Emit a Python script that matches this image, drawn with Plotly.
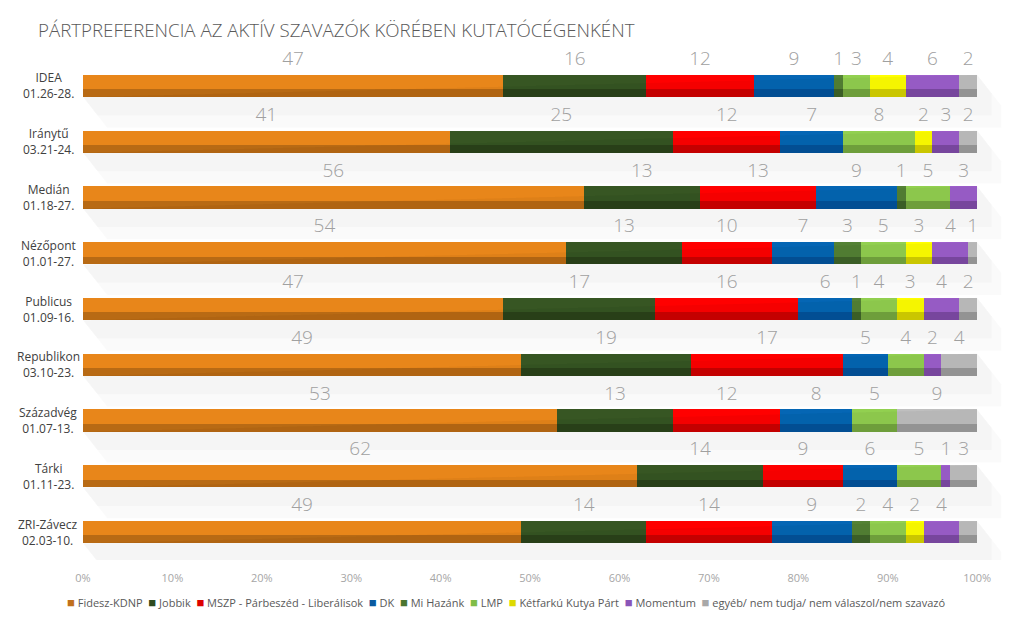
import plotly.graph_objects as go

pollsters = ["IDEA<br>01.26-28.", "Iránytű<br>03.21-24.", "Medián<br>01.18-27.",
             "Nézőpont<br>01.01-27.", "Publicus<br>01.09-16.", "Republikon<br>03.10-23.",
             "Századvég<br>01.07-13.", "Tárki<br>01.11-23.", "ZRI-Závecz<br>02.03-10."]

parties = ["Fidesz-KDNP", "Jobbik", "MSZP - Párbeszéd - Liberálisok", "DK", "Mi Hazánk",
           "LMP", "Kétfarkú Kutya Párt", "Momentum", "egyéb/ nem tudja/ nem válaszol/nem szavazó"]

fidesz    = [47, 41, 56, 54, 47, 49, 53, 62, 49]
jobbik    = [16, 25, 13, 13, 17, 19, 13, 14, 14]
mszp      = [12, 12, 13, 10, 16, 17, 12, 9, 14]
dk        = [9, 7, 9, 7, 6, 5, 8, 6, 9]
mihazank  = [1, 0, 1, 3, 1, 0, 0, 0, 2]
lmp       = [3, 8, 5, 5, 4, 4, 5, 5, 4]
ketfarku  = [4, 2, 0, 3, 3, 0, 0, 0, 2]
momentum  = [6, 3, 3, 4, 4, 2, 0, 1, 4]
egyeb     = [2, 2, 0, 1, 2, 4, 9, 3, 2]
# whether the value label is shown for "egyéb" (ZRI-Závecz label missing in the source)
egyeb_label_shown = [True, True, True, True, True, True, True, True, False]

xticks = [0, 10, 20, 30, 40, 50, 60, 70, 80, 90, 100]
xtick_labels = ["0%", "10%", "20%", "30%", "40%", "50%", "60%", "70%", "80%", "90%", "100%"]

series = [fidesz, jobbik, mszp, dk, mihazank, lmp, ketfarku, momentum, egyeb]

top_colors = ["#E8861A", "#375623", "#FF0000", "#0566B4", "#548235",
              "#92D050", "#FFFF00", "#9E5FCC", "#BFBFBF"]
bottom_colors = ["#B86A14", "#2A431A", "#CC0000", "#04529A", "#3F6228",
                 "#74A63F", "#D4CF00", "#7D4AA5", "#9A9A9A"]
legend_colors = ["#C0701C", "#2E4A1F", "#DD0000", "#0A5AA0", "#4A7530",
                 "#80BD48", "#DEDA00", "#8A55B8", "#A8A8A8"]

rows = list(range(len(pollsters)))
BAR_W = 0.4
DARK_W = 0.14
SH_DX = 2.7
SH_DY = 0.55

fig = go.Figure()

# soft diagonal shadows behind bars
for r in rows:
    top, bot = r - BAR_W / 2, r + BAR_W / 2
    for dx, dy, a in [(SH_DX, SH_DY, 0.018), (SH_DX * 0.6, SH_DY * 0.6, 0.02)]:
        fig.add_trace(go.Scatter(
            x=[0, dx, 100 + dx, 100 + dx, 100, 0],
            y=[bot, bot + dy, bot + dy, top + dy, top, bot],
            mode="lines", line=dict(width=0), fill="toself",
            fillcolor="rgba(0,0,0,%s)" % a, hoverinfo="skip", showlegend=False))

label_x, label_y, label_t = [], [], []
cum = [0] * len(rows)
for j, (name, vals) in enumerate(zip(parties, series)):
    bases = cum[:]
    fig.add_trace(go.Bar(
        y=rows, x=vals, base=bases, orientation="h", width=BAR_W,
        marker=dict(color=top_colors[j], line=dict(width=0)),
        name=name, showlegend=False))
    fig.add_trace(go.Bar(
        y=rows, x=vals, base=bases, orientation="h", width=DARK_W,
        offset=BAR_W / 2 - DARK_W,
        marker=dict(color=bottom_colors[j], line=dict(width=0)),
        showlegend=False, hoverinfo="skip"))
    for i, v in enumerate(vals):
        if v > 0:
            show = not (j == len(series) - 1 and not egyeb_label_shown[i])
            if show:
                label_x.append(bases[i] + v / 2)
                label_y.append(i - 0.46)
                label_t.append(str(v))
        cum[i] += v

fig.add_trace(go.Scatter(
    x=label_x, y=label_y, text=label_t, mode="text",
    textfont=dict(size=19, color="#A0A0A0", family="Open Sans", weight=300),
    hoverinfo="skip", showlegend=False, cliponaxis=False))

L, R, T, B = 83, 13, 58, 77
plot_w = 1017 - L - R
plot_h = 637 - T - B

for i, p in enumerate(pollsters):
    fig.add_annotation(x=-(L - 48) / plot_w, xref="paper", y=i, yref="y",
                       text=p, showarrow=False, align="center", xanchor="center",
                       font=dict(size=12, color="#404040", family="Open Sans"))

# legend as a single flowing line of text with coloured squares
legend_text = "\u00a0\u00a0".join(
    "<span style='color:%s;font-size:13px'>■</span>\u00a0%s" % (c, n)
    for c, n in zip(legend_colors, parties))
fig.add_annotation(x=(506 - L) / plot_w, xref="paper", xanchor="center",
                   y=-(602 - (637 - B)) / plot_h, yref="paper", yanchor="middle",
                   text=legend_text, showarrow=False,
                   font=dict(size=11, color="#595959", family="Open Sans"))

fig.update_layout(
    width=1017, height=637,
    barmode="overlay",
    bargap=0,
    showlegend=False,
    plot_bgcolor="white", paper_bgcolor="white",
    margin=dict(l=L, r=R, t=T, b=B),
    title=dict(text="PÁRTPREFERENCIA AZ AKTÍV SZAVAZÓK KÖRÉBEN KUTATÓCÉGENKÉNT",
               x=38 / 1017, xref="container", xanchor="left",
               y=1 - 30 / 637, yref="container", yanchor="middle",
               font=dict(size=18.7, color="#595959", family="Open Sans", weight=300)),
    xaxis=dict(range=[0, 103.0], tickvals=xticks, ticktext=xtick_labels,
               showgrid=False, zeroline=False, showline=False,
               tickfont=dict(size=11, color="#A6A6A6", family="Open Sans"),
               ticklabelstandoff=10),
    yaxis=dict(range=[8.5, -0.5], showticklabels=False, showgrid=False,
               zeroline=False, showline=False),
)

fig.write_html("out.html", post_script="document.body.style.margin='0';",
               config={"displayModeBar": False})
